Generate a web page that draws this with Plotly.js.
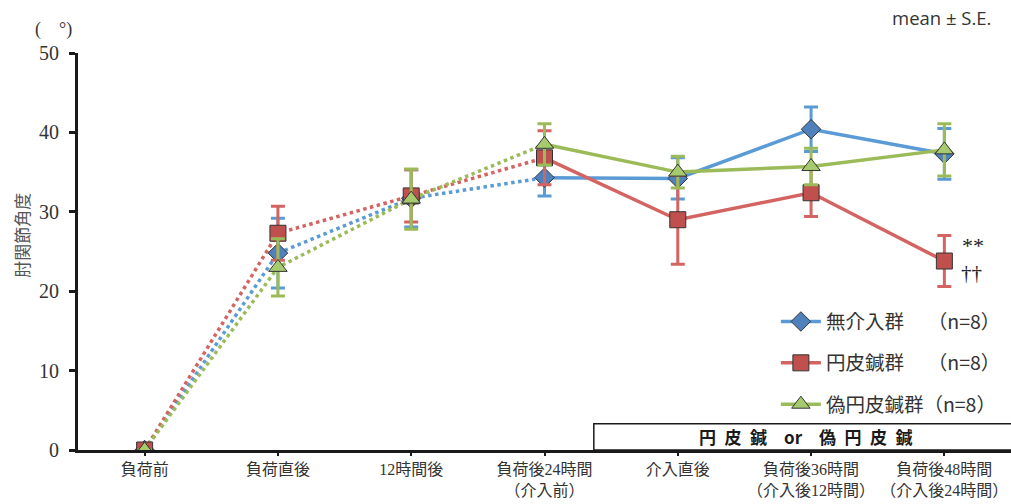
<!DOCTYPE html>
<html>
<head>
<meta charset="utf-8">
<script src="https://cdn.plot.ly/plotly-3.0.1.min.js"></script>
<style>
  html, body { margin: 0; padding: 0; background: #fff; }
  #chart { width: 1011px; height: 504px; }
</style>
</head>
<body>
<div id="chart"></div>
<script>
// Time points (category axis)
const timepoints = [
  '負荷前',
  '負荷直後',
  '12時間後',
  '負荷後24時間<br>（介入前）',
  '介入直後',
  '負荷後36時間<br>（介入後12時間）',
  '負荷後48時間<br>（介入後24時間）'
];

// Elbow joint angle (°), mean and S.E. per group
const noIntervention = [0, 24.8, 31.7, 34.3, 34.2, 40.4, 37.3];
const noInterventionSE = [0, 4.4, 3.6, 2.3, 2.6, 2.8, 3.2];

const pressNeedle = [0, 27.3, 32.0, 36.8, 29.0, 32.4, 23.8];
const pressNeedleSE = [0, 3.4, 3.3, 3.4, 5.6, 3.0, 3.2];

const shamNeedle = [0, 23.0, 31.6, 38.5, 35.0, 35.7, 37.8];
const shamNeedleSE = [0, 3.6, 3.8, 2.6, 2.0, 2.3, 3.3];

const groupNames = ['無介入群　 （n=8）', '円皮鍼群　 （n=8）', '偽円皮鍼群（n=8）'];

const yTicks = [0, 10, 20, 30, 40, 50];

const groups = [
  { y: noIntervention, se: noInterventionSE, name: groupNames[0],
    line: '#5B9BD5', fill: '#4F81BD', symbol: 'diamond', size: 15 },
  { y: pressNeedle, se: pressNeedleSE, name: groupNames[1],
    line: '#D46462', fill: '#C0504D', symbol: 'square', size: 16 },
  { y: shamNeedle, se: shamNeedleSE, name: groupNames[2],
    line: '#9BBB59', fill: '#A6CB6E', symbol: 'triangle-up', size: 16 }
];

const markerStyle = g => ({ symbol: g.symbol, size: g.size, color: g.fill,
                            line: { color: '#333333', width: 1 } });

const traces = [];
groups.forEach(g => {
  // dotted segment: before intervention (first four time points)
  traces.push({
    type: 'scatter', mode: 'lines',
    x: timepoints.slice(0, 4), y: g.y.slice(0, 4),
    line: { color: g.line, width: 3.5, dash: 'dot' },
    showlegend: false, hoverinfo: 'skip'
  });
  // solid segment: from intervention onward
  traces.push({
    type: 'scatter', mode: 'lines',
    x: timepoints.slice(3), y: g.y.slice(3),
    line: { color: g.line, width: 3.5 },
    showlegend: false, hoverinfo: 'skip'
  });
});
// markers with error bars, drawn above all lines
groups.forEach(g => {
  traces.push({
    type: 'scatter', mode: 'markers',
    x: timepoints, y: g.y,
    marker: markerStyle(g),
    error_y: { type: 'data', array: g.se, visible: true,
               color: g.line, thickness: 3, width: 7 },
    showlegend: false, hoverinfo: 'skip'
  });
});
// legend entries (line + marker)
groups.forEach((g, gi) => {
  traces.push({
    type: 'scatter', mode: 'lines+markers',
    x: [null], y: [null], name: g.name,
    line: { color: g.line, width: 3.5 },
    marker: markerStyle(g),
    legendgroup: 'g' + gi, showlegend: true
  });
});

const serif = 'Liberation Serif, "Noto Sans CJK JP", serif';
const cjk = '"Noto Sans CJK JP", sans-serif';

const layout = {
  width: 1011, height: 504,
  margin: { l: 78, r: 0, t: 53, b: 54, pad: 0 },
  paper_bgcolor: '#ffffff', plot_bgcolor: '#ffffff',
  showlegend: true,
  legend: {
    x: 0.748, y: 0.372, xanchor: 'left', yanchor: 'top',
    bgcolor: 'rgba(0,0,0,0)', borderwidth: 0,
    font: { family: cjk, size: 19.5, color: '#333333' },
    itemwidth: 40, tracegroupgap: 13, traceorder: 'grouped'
  },
  xaxis: {
    type: 'category', range: [-0.5, 6.5],
    showline: true, linecolor: '#1a1a1a', linewidth: 3,
    ticks: 'outside', ticklen: 3, tickwidth: 2, tickcolor: '#1a1a1a',
    showgrid: false, zeroline: false,
    tickfont: { family: serif, size: 16, color: '#333333' },
    fixedrange: true
  },
  yaxis: {
    range: [0, 50], tickvals: yTicks, ticktext: yTicks.map(String),
    showline: true, linecolor: '#1a1a1a', linewidth: 3,
    ticks: 'outside', ticklen: 6, tickwidth: 3, tickcolor: '#1a1a1a',
    ticklabelstandoff: 6,
    showgrid: false, zeroline: false,
    tickfont: { family: serif, size: 20, color: '#333333' },
    fixedrange: true
  },
  shapes: [
    { type: 'rect', xref: 'x', yref: 'y', x0: 3.37, x1: 6.6, y0: 0, y1: 3.3,
      line: { color: '#1a1a1a', width: 1.5 }, fillcolor: 'rgba(0,0,0,0)', layer: 'below' }
  ],
  annotations: [
    { xref: 'paper', yref: 'paper', x: -0.060, y: 0.54, xanchor: 'center', yanchor: 'middle',
      text: '肘関節角度', textangle: -90, showarrow: false,
      font: { family: cjk, size: 17, color: '#555555' } },
    { xref: 'paper', yref: 'paper', x: -0.026, y: 1.058, xanchor: 'center', yanchor: 'middle',
      text: '(　°)', showarrow: false,
      font: { family: serif, size: 18, color: '#333333' } },
    { xref: 'paper', yref: 'paper', x: 0.926, y: 1.09, xanchor: 'center', yanchor: 'middle',
      text: 'mean ± S.E.', showarrow: false,
      font: { family: 'Open Sans, sans-serif', size: 18.5, color: '#333333' } },
    { xref: 'x', yref: 'y', x: 4.96, y: 1.65,
      text: '<b>円\u2002皮\u2002鍼\u2003or\u2003偽\u2002円\u2002皮\u2002鍼</b>', showarrow: false,
      font: { family: cjk, size: 17, color: '#1a1a1a' } },
    { xref: 'x', yref: 'y', x: 6.213, y: 25.8, xanchor: 'center', yanchor: 'middle',
      text: '**', showarrow: false,
      font: { family: serif, size: 22, color: '#222222' } },
    { xref: 'x', yref: 'y', x: 6.205, y: 22.3, xanchor: 'center', yanchor: 'middle',
      text: '††', showarrow: false,
      font: { family: serif, size: 21, color: '#222222' } }
  ]
};

Plotly.newPlot('chart', traces, layout, { displayModeBar: false, staticPlot: true });
</script>
</body>
</html>
